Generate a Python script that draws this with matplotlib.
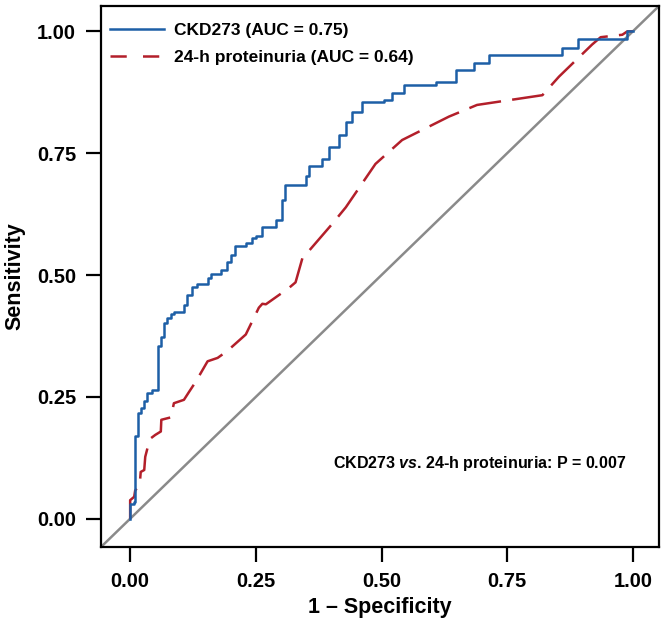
import matplotlib
matplotlib.use("Agg")
import matplotlib.pyplot as plt
from matplotlib.lines import Line2D

# ROC vertices (1 - specificity, sensitivity)
ckd_fpr = [0.0, 0.0, 0.008, 0.010, 0.015, 0.021, 0.028, 0.034, 0.044, 0.056,
           0.061, 0.068, 0.074, 0.081, 0.087, 0.107, 0.114, 0.124, 0.132,
           0.154, 0.160, 0.180, 0.193, 0.200, 0.209, 0.230, 0.242, 0.250,
           0.263, 0.290, 0.302, 0.308, 0.350, 0.356, 0.382, 0.396, 0.416,
           0.429, 0.442, 0.462, 0.505, 0.521, 0.545, 0.608, 0.648, 0.684,
           0.714, 0.859, 0.891, 0.989, 1.0]
ckd_tpr = [0.0, 0.030, 0.035, 0.170, 0.216, 0.228, 0.241, 0.258, 0.265, 0.354,
           0.373, 0.402, 0.411, 0.421, 0.425, 0.438, 0.460, 0.476, 0.482,
           0.493, 0.502, 0.510, 0.526, 0.542, 0.560, 0.565, 0.577, 0.581,
           0.598, 0.612, 0.653, 0.684, 0.703, 0.723, 0.739, 0.763, 0.787,
           0.814, 0.835, 0.856, 0.860, 0.873, 0.890, 0.897, 0.921, 0.935,
           0.952, 0.966, 0.984, 1.0, 1.0]

prot_fpr = [0.0, 0.0, 0.008, 0.010, 0.019, 0.021, 0.028, 0.030, 0.036, 0.041,
            0.050, 0.061, 0.062, 0.081, 0.087, 0.107, 0.117, 0.131, 0.154,
            0.174, 0.193, 0.230, 0.256, 0.263, 0.270, 0.296, 0.313, 0.329,
            0.343, 0.356, 0.402, 0.429, 0.488, 0.541, 0.634, 0.690, 0.820,
            0.853, 0.919, 0.936, 0.979, 0.989, 1.0]
prot_tpr = [0.0, 0.038, 0.045, 0.058, 0.069, 0.096, 0.100, 0.127, 0.151, 0.165,
            0.172, 0.179, 0.203, 0.208, 0.237, 0.244, 0.260, 0.282, 0.323,
            0.330, 0.344, 0.378, 0.433, 0.441, 0.440, 0.459, 0.471, 0.485,
            0.536, 0.550, 0.605, 0.639, 0.728, 0.777, 0.825, 0.849, 0.869,
            0.907, 0.973, 0.988, 0.993, 1.0, 1.0]

labels = ["CKD273 (AUC = 0.75)", "24-h proteinuria (AUC = 0.64)"]
ticks = [0.0, 0.25, 0.5, 0.75, 1.0]
note = "CKD273 $\\mathbfit{vs}$. 24-h proteinuria: P = 0.007"

BLUE = '#1d5fa6'
RED = '#b31f2a'

plt.rcParams['font.family'] = ['Liberation Sans', 'DejaVu Sans']
plt.rcParams['font.weight'] = 'bold'
plt.rcParams['mathtext.fontset'] = 'custom'
plt.rcParams['mathtext.bfit'] = 'Liberation Sans:bold:italic'

fig = plt.figure(figsize=(6.66, 6.27), dpi=100)
ax = fig.add_axes([101 / 666, 1 - 547 / 627, 558 / 666, 541 / 627])

lims = (-0.058, 1.052)
ax.plot(lims, lims, color='#8a8a8a', lw=1.8, zorder=1)
ax.plot(ckd_fpr, ckd_tpr, drawstyle='steps-post', color=BLUE, lw=1.8,
        zorder=3)
ax.plot(prot_fpr, prot_tpr, color=RED, lw=1.8, dashes=(13, 4.5), zorder=2)

ax.set_xlim(lims)
ax.set_ylim(lims)
ax.set_xticks(ticks)
ax.set_yticks(ticks)
ax.set_xticklabels(["%.2f" % t for t in ticks])
ax.set_yticklabels(["%.2f" % t for t in ticks])
ax.tick_params(length=11, width=1.6, pad=7, labelsize=14.5)
for s in ax.spines.values():
    s.set_linewidth(1.6)

ax.set_xlabel("1 \u2013 Specificity", fontsize=15.5, fontweight='bold')
ax.set_ylabel("Sensitivity", fontsize=15.5, fontweight='bold')
ax.xaxis.label.set_va('center')
ax.yaxis.label.set_va('center')
ax.xaxis.set_label_coords(0.5, -0.111)
ax.yaxis.set_label_coords(-0.155, 0.5)

ax.text(0.696, 0.114, note, va='center', ha='center', fontsize=11.5,
        fontweight='bold')

handles = [Line2D([], [], color=BLUE, lw=1.8),
           Line2D([], [], color=RED, lw=1.8, dashes=(6.5, 6.5))]
ax.legend(handles, labels, loc='upper left', frameon=False, fontsize=12.5,
          handlelength=3.1, handletextpad=0.6, labelspacing=0.7,
          borderpad=0, borderaxespad=0, bbox_to_anchor=(0.016, 0.969))

fig.savefig("out.png", dpi=100)
